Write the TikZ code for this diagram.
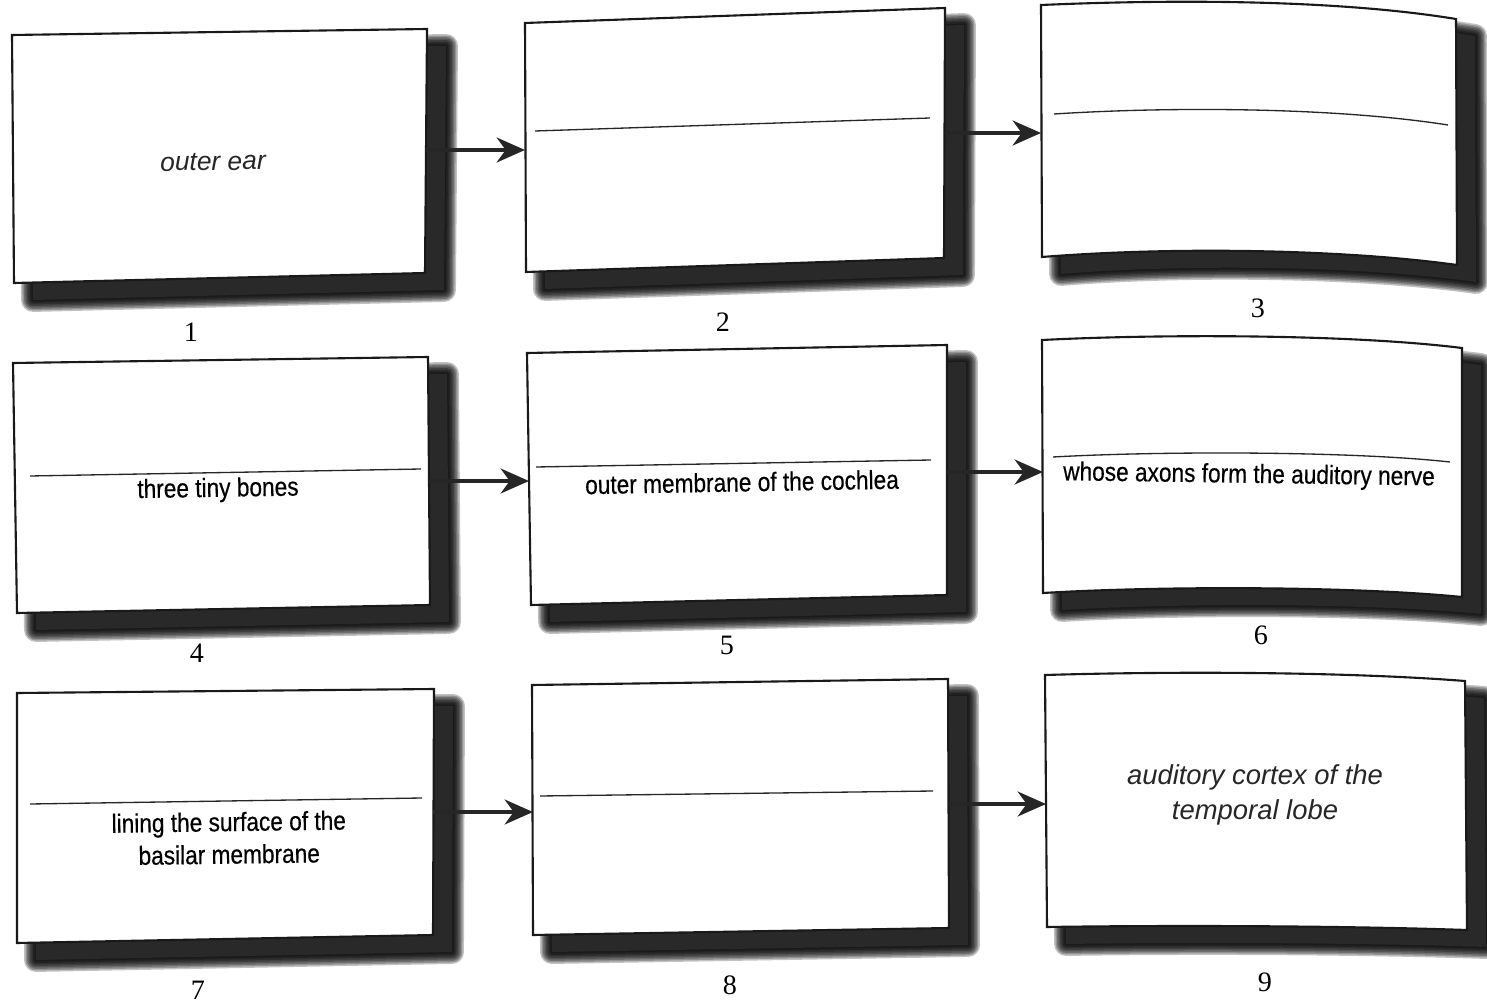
\documentclass[tikz,border=0pt]{standalone}
\usepackage{fontspec}
\setmainfont{Liberation Serif}
\newfontfamily\helv{Liberation Sans}
\newfontfamily\cond[FakeStretch=0.86, FakeBold=0.4]{Liberation Sans}
\usetikzlibrary{arrows.meta}

\tikzset{
  cardbox/.style={fill=white, draw=black!90, line width=1.2pt, line join=miter},
  rule/.style={draw=black!85, line width=0.75pt},
  flow/.style={draw=black!85, line width=2.8pt, -{Stealth[length=16pt, width=14pt, inset=5pt]}},
  condtext/.style={font=\cond\fontsize{15}{18.5}\selectfont, text=black, inner sep=0pt, align=center},
  itext/.style={font=\helv\itshape\fontsize{15}{20}\selectfont, text=black!85, inner sep=0pt, align=center},
  numlabel/.style={font=\fontsize{16}{18}\selectfont, inner sep=0pt},
  blurring/.style={black, opacity=0.24, line join=round}
}

\newcommand\shadowcard[1]{%
  \begin{scope}[shift={(19,17)}]
    \foreach \w in {13.6,11.9,10.2,8.5,6.8,5.1,3.4,1.7}{\draw[blurring, line width=\w pt] #1;}
    \fill[black!84] #1;
  \end{scope}%
  \filldraw[cardbox] #1;%
}

\begin{document}
\begin{tikzpicture}[x=0.02cm, y=-0.02cm]
\useasboundingbox[fill=white] (0,0) rectangle (1487,1006);

% ---------- Row 1 ----------
\shadowcard{(12,35) -- (427,29) -- (425,273) -- (14,283) -- cycle}
\node[itext, rotate=0.8] (t1) at (213,162) {outer ear};
\node[numlabel] (n1) at (191,332) {1};

\shadowcard{(525,23) -- (945,8) -- (944,258) -- (526,272) -- cycle}
\draw[rule] (535,131) -- (930,118);
\node[numlabel] (n2) at (723,322) {2};

\shadowcard{(1041,5) .. controls (1180,-1) and (1340,0) .. (1456,19) -- (1457,265) .. controls (1350,250) and (1180,246) .. (1042,257) -- cycle}
\draw[rule] (1054,114) .. controls (1180,106) and (1340,108) .. (1448,125);
\node[numlabel] (n3) at (1258,308) {3};

% ---------- Row 2 ----------
\shadowcard{(13,363) -- (428,357) -- (430,605) -- (17,613) -- cycle}
\draw[rule] (30,476) -- (421,469);
\node[condtext, rotate=0.9] (t4) at (218,490) {three tiny bones};
\node[numlabel] (n4) at (197,653) {4};

\shadowcard{(527,353) -- (947,345) -- (947,595) -- (531,605) -- cycle}
\draw[rule] (536,467) -- (931,460);
\node[condtext, rotate=1] (t5) at (742,482) {outer membrane of the cochlea};
\node[numlabel] (n5) at (727,645) {5};

\shadowcard{(1042,340) .. controls (1160,334) and (1350,334) .. (1462,348) -- (1462,597) .. controls (1350,586) and (1160,586) .. (1043,593) -- cycle}
\draw[rule] (1053,457) .. controls (1160,451) and (1350,451) .. (1450,462);
\node[condtext, rotate=-0.8] (t6) at (1249,476) {whose axons form the auditory nerve};
\node[numlabel] (n6) at (1261,635) {6};

% ---------- Row 3 ----------
\shadowcard{(17,693) -- (434,689) -- (433,935) -- (17,943) -- cycle}
\draw[rule] (30,804) -- (422,798);
\node[condtext, rotate=0.8] (t7) at (229,838) {lining the surface of the\\basilar membrane};
\node[numlabel] (n7) at (198,990) {7};

\shadowcard{(532,685) -- (948,679) -- (949,928) -- (533,935) -- cycle}
\draw[rule] (540,796) -- (933,791);
\node[numlabel] (n8) at (730,985) {8};

\shadowcard{(1045,675) .. controls (1180,671) and (1350,672) .. (1465,681) -- (1467,930) .. controls (1350,926) and (1180,925) .. (1047,927) -- cycle}
\node[itext, font=\helv\itshape\fontsize{15.6}{20}\selectfont] (t9) at (1255,795) {auditory cortex of the\\temporal lobe};
\node[numlabel] (n9) at (1265,982) {9};

% ---------- connectors ----------
\coordinate (c1e) at (426,150);  \coordinate (c2w) at (525,150);
\coordinate (c2e) at (945,133);  \coordinate (c3w) at (1041,133);
\coordinate (c4e) at (429,481);  \coordinate (c5w) at (529,481);
\coordinate (c5e) at (947,472);  \coordinate (c6w) at (1043,472);
\coordinate (c7e) at (433,812);  \coordinate (c8w) at (533,812);
\coordinate (c8e) at (949,804);  \coordinate (c9w) at (1046,804);

\draw[flow] (c1e) -- (c2w);
\draw[flow] (c2e) -- (c3w);
\draw[flow] (c4e) -- (c5w);
\draw[flow] (c5e) -- (c6w);
\draw[flow] (c7e) -- (c8w);
\draw[flow] (c8e) -- (c9w);
\end{tikzpicture}
\end{document}
